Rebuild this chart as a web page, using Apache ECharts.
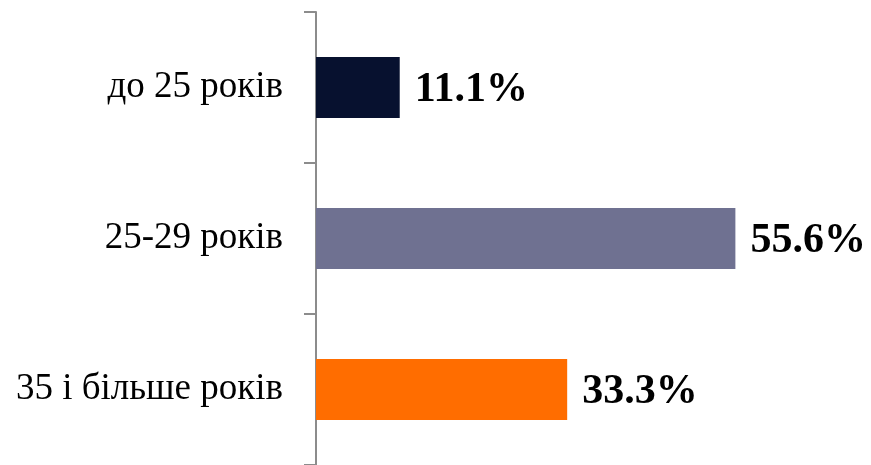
<!DOCTYPE html>
<html>
<head>
<meta charset="utf-8">
<script src="https://cdn.jsdelivr.net/npm/echarts@6/dist/echarts.min.js"></script>
<style>
  html, body { margin: 0; padding: 0; background: #fff; }
  #chart { width: 871px; height: 465px; }
</style>
</head>
<body>
<div id="chart"></div>
<script>
const categories = ['до 25 років', '25-29 років', '35 і більше років']
const values = [11.1, 55.6, 33.3]
const barColors = ['#07112f', '#6f7191', '#ff6d00']

const chart = echarts.init(document.getElementById('chart'))
chart.setOption({
  animation: false,
  grid: { left: 316, right: 27, top: 12, bottom: 0, containLabel: false },
  xAxis: { type: 'value', min: 0, max: 70, show: false },
  yAxis: {
    type: 'category',
    inverse: true,
    data: categories,
    axisLine: { show: true, lineStyle: { color: '#8c8c8c', width: 2 } },
    axisTick: { show: true, length: 12, lineStyle: { color: '#8c8c8c', width: 2 } },
    axisLabel: {
      margin: 33,
      color: '#000',
      fontFamily: '"Liberation Serif", "DejaVu Serif", serif',
      fontSize: 37
    },
    splitLine: { show: false }
  },
  series: [{
    type: 'bar',
    data: values.map((v, i) => ({ value: v, itemStyle: { color: barColors[i] } })),
    barWidth: 61,
    z: 1,
    label: {
      show: true,
      position: 'right',
      distance: 15,
      offset: [0, 3],
      formatter: p => p.value.toFixed(1) + '%',
      color: '#000',
      fontFamily: '"Liberation Serif", "DejaVu Serif", serif',
      fontWeight: 'bold',
      fontSize: 42
    }
  }]
})
</script>
</body>
</html>
